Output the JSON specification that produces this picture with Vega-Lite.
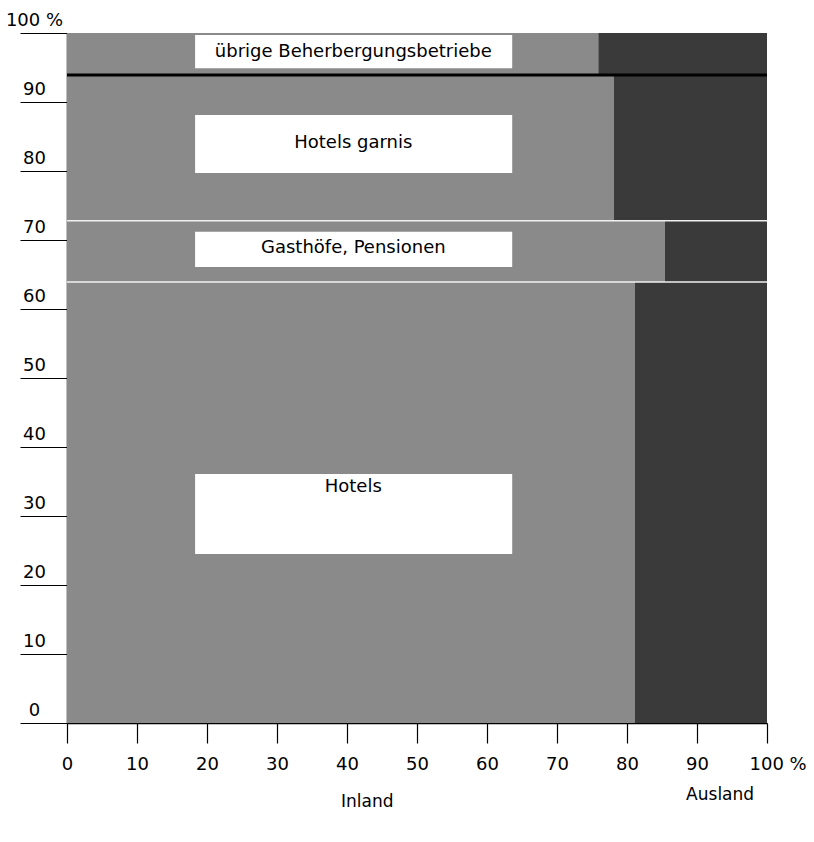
{
  "$schema": "https://vega.github.io/schema/vega-lite/v6.json",
  "width": 700,
  "height": 690,
  "autosize": {"type": "none"},
  "padding": {"left": 67, "top": 33, "right": 47, "bottom": 119},
  "background": "white",
  "config": {"view": {"stroke": null}, "font": "DejaVu Sans"},
  "datasets": {
    "cells": [
      {"betrieb": "Hotels", "herkunft": "Inland", "x0": 0, "x1": 81.1, "y0": 0, "y1": 63.9},
      {"betrieb": "Hotels", "herkunft": "Ausland", "x0": 81.1, "x1": 100, "y0": 0, "y1": 63.9},
      {"betrieb": "Gasthöfe, Pensionen", "herkunft": "Inland", "x0": 0, "x1": 85.4, "y0": 63.9, "y1": 72.8},
      {"betrieb": "Gasthöfe, Pensionen", "herkunft": "Ausland", "x0": 85.4, "x1": 100, "y0": 63.9, "y1": 72.8},
      {"betrieb": "Hotels garnis", "herkunft": "Inland", "x0": 0, "x1": 78.1, "y0": 72.8, "y1": 93.9},
      {"betrieb": "Hotels garnis", "herkunft": "Ausland", "x0": 78.1, "x1": 100, "y0": 72.8, "y1": 93.9},
      {"betrieb": "übrige Beherbergungsbetriebe", "herkunft": "Inland", "x0": 0, "x1": 75.9, "y0": 93.9, "y1": 100},
      {"betrieb": "übrige Beherbergungsbetriebe", "herkunft": "Ausland", "x0": 75.9, "x1": 100, "y0": 93.9, "y1": 100}
    ],
    "boxes": [
      {"label": "übrige Beherbergungsbetriebe", "bx0": 18.3, "bx1": 63.6, "by0": 94.9, "by1": 99.7, "tx": 40.9, "ty": 97.3},
      {"label": "Hotels garnis", "bx0": 18.3, "bx1": 63.6, "by0": 79.7, "by1": 88.1, "tx": 40.9, "ty": 84.1},
      {"label": "Gasthöfe, Pensionen", "bx0": 18.3, "bx1": 63.6, "by0": 66.1, "by1": 71.2, "tx": 40.9, "ty": 68.8},
      {"label": "Hotels", "bx0": 18.3, "bx1": 63.6, "by0": 24.5, "by1": 36.1, "tx": 40.9, "ty": 34.2}
    ],
    "origins": [
      {"label": "Inland", "ox": 42.9, "oy": -11.4},
      {"label": "Ausland", "ox": 93.3, "oy": -10.4}
    ],
    "seps": [
      {"sy": 63.9},
      {"sy": 72.8}
    ],
    "thick": [
      {"ty": 93.9}
    ]
  },
  "layer": [
    {
      "data": {"name": "cells"},
      "mark": {"type": "rect"},
      "encoding": {
        "x": {
          "field": "x0", "type": "quantitative",
          "scale": {"domain": [0, 100], "nice": false, "zero": false},
          "axis": {
            "title": null, "values": [0, 10, 20, 30, 40, 50, 60, 70, 80, 90, 100],
            "grid": false, "tickSize": 20, "tickColor": "black", "tickWidth": 1.2,
            "domainColor": "black", "domainWidth": 1.5,
            "labelFontSize": 18, "labelColor": "black", "labelPadding": 12,
            "labelFont": "DejaVu Sans",
            "labelExpr": "datum.value == 100 ? '100 %' : datum.label",
            "labelAlign": {"condition": {"test": "datum.value == 100", "value": "left"}, "value": "center"},
            "labelOffset": {"condition": {"test": "datum.value == 100", "value": -18}, "value": 0},
            "labelFlush": false, "labelOverlap": false
          }
        },
        "x2": {"field": "x1"},
        "y": {
          "field": "y0", "type": "quantitative",
          "scale": {"domain": [0, 100], "nice": false, "zero": false},
          "axis": {
            "title": null, "values": [0, 10, 20, 30, 40, 50, 60, 70, 80, 90, 100],
            "grid": false, "tickSize": 47, "tickColor": "black", "tickWidth": 1.2,
            "domainColor": "black", "domainWidth": 1.5,
            "labelFontSize": 18, "labelColor": "black", "labelPadding": -14,
            "labelFont": "DejaVu Sans",
            "labelAlign": "center", "labelBaseline": "alphabetic", "labelOffset": -8,
            "labelExpr": "datum.value == 100 ? '100 %' : datum.label",
            "labelFlush": false, "labelOverlap": false
          }
        },
        "y2": {"field": "y1"},
        "color": {
          "field": "herkunft", "type": "nominal",
          "scale": {"domain": ["Inland", "Ausland"], "range": ["#8a8a8a", "#3a3a3a"]},
          "legend": null
        }
      }
    },
    {
      "data": {"name": "seps"},
      "mark": {"type": "rule", "color": "#f0f0f0", "strokeWidth": 1.5},
      "encoding": {"y": {"field": "sy", "type": "quantitative"}}
    },
    {
      "data": {"name": "thick"},
      "mark": {"type": "rule", "color": "black", "strokeWidth": 3},
      "encoding": {"y": {"field": "ty", "type": "quantitative"}}
    },
    {
      "data": {"name": "boxes"},
      "mark": {"type": "rect", "color": "white"},
      "encoding": {
        "x": {"field": "bx0", "type": "quantitative"},
        "x2": {"field": "bx1"},
        "y": {"field": "by0", "type": "quantitative"},
        "y2": {"field": "by1"}
      }
    },
    {
      "data": {"name": "boxes"},
      "mark": {"type": "text", "font": "DejaVu Sans", "fontSize": 18, "color": "black", "baseline": "middle", "align": "center"},
      "encoding": {
        "x": {"field": "tx", "type": "quantitative"},
        "y": {"field": "ty", "type": "quantitative"},
        "text": {"field": "label", "type": "nominal"}
      }
    },
    {
      "data": {"name": "origins"},
      "mark": {"type": "text", "font": "DejaVu Sans", "fontSize": 17, "color": "black", "baseline": "middle", "align": "center"},
      "encoding": {
        "x": {"field": "ox", "type": "quantitative"},
        "y": {"field": "oy", "type": "quantitative"},
        "text": {"field": "label", "type": "nominal"}
      }
    }
  ]
}
